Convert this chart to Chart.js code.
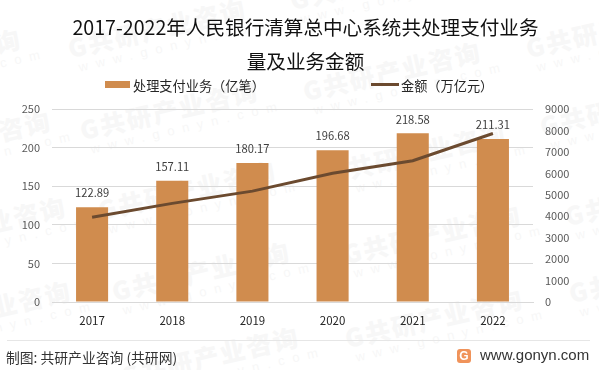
<!DOCTYPE html>
<html lang="zh">
<head>
<meta charset="utf-8">
<script src="https://cdn.jsdelivr.net/npm/chart.js@4/dist/chart.umd.min.js"></script>
<style>
  html, body { margin: 0; padding: 0; background: #fff; }
  body { width: 599px; height: 370px; overflow: hidden; position: relative; font-family: "Noto Sans CJK SC", sans-serif; }
  #wrap { position: absolute; left: 0; top: 0; width: 599px; height: 370px; }
  .wm { position: absolute; transform: rotate(-13deg); transform-origin: left top; color: #f7f7f7; white-space: nowrap; }
  .wm b { display: block; font-size: 25px; line-height: 28px; font-weight: 900; letter-spacing: 2px; }
  .wm i { display: block; font-size: 13px; line-height: 16px; font-style: normal; letter-spacing: 8px; font-family: "Liberation Sans", sans-serif; padding-left: 6px; }
  .legend { position: absolute; top: 77px; font-size: 13.2px; line-height: 18px; color: #262626; white-space: nowrap; }
  .swatch { position: absolute; }
  #foot { position: absolute; left: 7px; width: 583px; top: 340px; border-top: 1px solid #e6e6e6; }
  #source { position: absolute; left: 6px; top: 348px; font-size: 13.8px; line-height: 18px; color: #333; white-space: nowrap; }
  #site { position: absolute; left: 480px; top: 345px; font-size: 15px; line-height: 20px; color: #333; font-family: "Liberation Sans", sans-serif; }
  #logo { position: absolute; left: 457px; top: 349px; width: 14px; height: 14px; border-radius: 3px; background: #f0935a; color: #fff; font: bold 12px/14px "Liberation Sans", sans-serif; text-align: center; }
</style>
</head>
<body>
<div id="marks"></div>
<div id="wrap"><canvas id="chart" width="599" height="370"></canvas></div>
<div class="swatch" style="left:105px;top:81px;width:25px;height:7px;background:#d08c4e"></div>
<div class="legend" style="left:133px">处理支付业务（亿笔）</div>
<div class="swatch" style="left:371px;top:83px;width:28px;height:3px;background:#6b4a2f"></div>
<div class="legend" style="left:401px">金额（万亿元）</div>
<div id="foot"></div>
<div id="source">制图: 共研产业咨询 (共研网)</div>
<div id="logo">G</div>
<div id="site">www.gonyn.com</div>
<script>
const years = ['2017', '2018', '2019', '2020', '2021', '2022'];
const volume = [122.89, 157.11, 180.17, 196.68, 218.58, 211.31];
const amount = [3950, 4600, 5170, 6000, 6590, 7860];
const titleLines = ['2017-2022年人民银行清算总中心系统共处理支付业务', '量及业务金额'];

// 水印位置 (左下角)
const markSpots = [[65, 60], [287, 12], [523, 60], [300, 103], [77, 142], [537, 138], [-160, 90],
    [-130, 172], [-115, 258], [95, 222], [325, 185], [340, 266], [562, 228], [109, 303],
    [566, 305], [342, 350], [-110, 342], [118, 388]];
markSpots.forEach(([x, y]) => {
    const el = document.createElement('div');
    el.className = 'wm';
    el.style.left = x + 'px';
    el.style.top = (y - 26) + 'px';
    el.innerHTML = '<b>G共研产业咨询</b><i>www.gonyn.com</i>';
    document.getElementById('marks').appendChild(el);
});

// 柱子上方的数值标签
const barLabels = {
    id: 'barLabels',
    afterDatasetsDraw(chart) {
        const ctx = chart.ctx;
        const bars = chart.getDatasetMeta(0).data;
        ctx.save();
        ctx.font = '11.2px "Noto Sans CJK SC", sans-serif';
        ctx.fillStyle = '#404040';
        ctx.textAlign = 'center';
        ctx.textBaseline = 'middle';
        bars.forEach((bar, i) => {
            ctx.fillText(volume[i].toFixed(2), bar.x, bar.y - 14);
        });
        ctx.restore();
    }
};

const tickFont = { family: '"Noto Sans CJK SC", sans-serif', size: 11 };

new Chart(document.getElementById('chart'), {
    data: {
        labels: years,
        datasets: [
            {
                type: 'bar',
                label: '处理支付业务（亿笔）',
                data: volume,
                backgroundColor: '#d08c4e',
                categoryPercentage: 0.4,
                barPercentage: 1,
                yAxisID: 'y',
                order: 2
            },
            {
                type: 'line',
                label: '金额（万亿元）',
                data: amount,
                borderColor: '#6b4a2f',
                borderWidth: 3,
                pointRadius: 0,
                tension: 0,
                yAxisID: 'y1',
                order: 1
            }
        ]
    },
    options: {
        responsive: false,
        animation: false,
        layout: { padding: { left: 12, right: 0, top: 0, bottom: 38 } },
        plugins: {
            legend: { display: false },
            tooltip: { enabled: false },
            title: {
                display: true,
                text: titleLines,
                color: '#111',
                font: { family: '"Noto Sans CJK SC", sans-serif', size: 19.6, weight: 'normal', lineHeight: 1.735 },
                padding: { top: 11, bottom: 30 }
            }
        },
        scales: {
            x: {
                grid: { display: false },
                border: { color: '#d9d9d9' },
                ticks: { color: '#262626', padding: 4, font: { family: '"Noto Sans CJK SC", sans-serif', size: 11.5 } },
                afterFit(axis) { axis.height = 30; }
            },
            y: {
                position: 'left',
                min: 0,
                max: 250,
                grid: { color: '#d9d9d9', drawTicks: false },
                border: { display: false },
                ticks: { stepSize: 50, color: '#595959', padding: 12, font: tickFont },
                afterFit(axis) { axis.width = 40; }
            },
            y1: {
                position: 'right',
                min: 0,
                max: 9000,
                grid: { display: false, drawTicks: false },
                border: { display: false },
                ticks: { stepSize: 1000, color: '#595959', padding: 12, font: tickFont, callback: v => String(v) },
                afterFit(axis) { axis.width = 66; }
            }
        }
    },
    plugins: [barLabels]
});
</script>
</body>
</html>
